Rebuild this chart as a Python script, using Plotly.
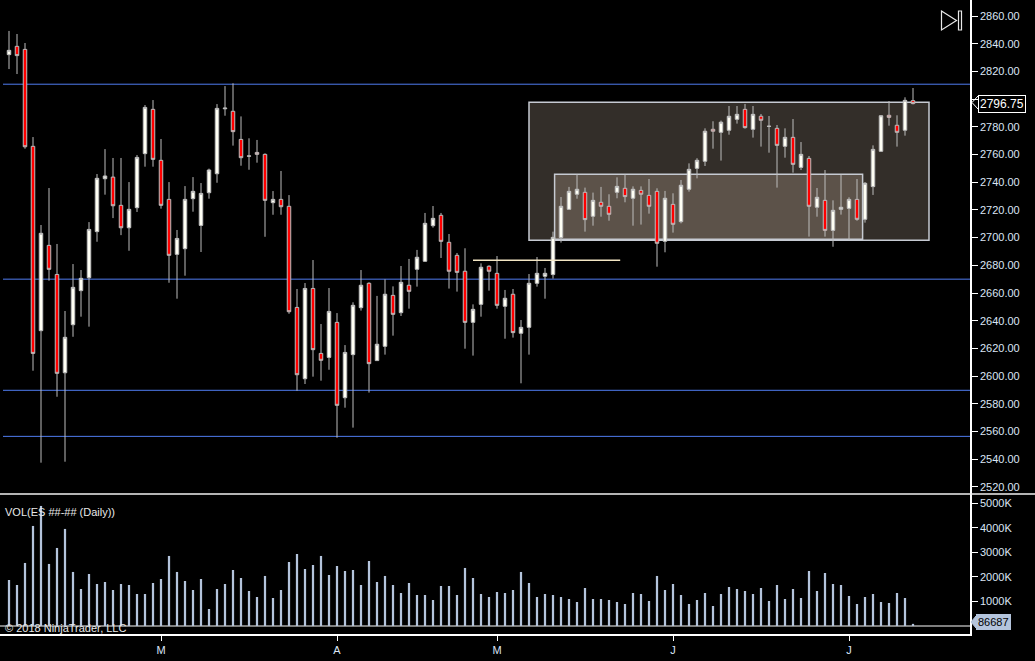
import plotly.graph_objects as go

# ---------------- data ----------------
bar_index = list(range(114))

opens = [2832.1, 2838.1, 2835.9, 2765.9, 2632.8, 2694.4, 2673.4, 2602.4, 2637.1, 2661.7,
         2671.0, 2704.3, 2742.5, 2743.7, 2723.3, 2707.1, 2721.6, 2760.6, 2792.6, 2755.8,
         2727.6, 2687.9, 2692.0, 2728.1, 2708.8, 2732.4, 2746.1, 2793.0, 2791.2, 2770.9,
         2759.0, 2761.5, 2760.1, 2725.2, 2727.6, 2722.6, 2649.6, 2598.1, 2663.3, 2616.4,
         2613.5, 2638.8, 2584.4, 2615.5, 2649.4, 2667.0, 2611.2, 2621.5, 2658.3, 2645.8,
         2665.6, 2677.1, 2682.9, 2708.6, 2716.1, 2696.6, 2687.2, 2675.7, 2638.8, 2651.8,
         2679.3, 2674.2, 2650.4, 2659.1, 2630.9, 2635.2, 2667.0, 2672.1, 2673.3, 2700.0,
         2720.4, 2731.3, 2732.7, 2715.4, 2725.5, 2722.6, 2732.7, 2735.6, 2728.4, 2734.1,
         2730.5, 2733.4, 2697.3, 2724.0, 2711.5, 2734.9, 2750.0, 2755.1, 2778.2, 2776.0,
         2777.5, 2785.4, 2792.6, 2778.2, 2787.6, 2780.3, 2778.9, 2765.9, 2772.4, 2750.7,
         2757.2, 2721.9, 2726.9, 2705.2, 2720.4, 2721.1, 2727.6, 2713.2, 2736.8, 2762.3,
         2788.3, 2781.1, 2777.5, 2798.9]
highs = [2849.2, 2847.0, 2840.5, 2772.6, 2709.1, 2735.8, 2695.4, 2647.0, 2680.9, 2676.6,
         2711.2, 2745.9, 2763.9, 2757.5, 2757.5, 2740.1, 2759.6, 2795.7, 2799.3, 2771.2,
         2740.1, 2705.5, 2737.2, 2743.7, 2739.4, 2749.8, 2796.4, 2809.4, 2811.4, 2787.5,
         2771.7, 2770.5, 2760.8, 2733.6, 2748.1, 2730.7, 2662.9, 2667.2, 2683.8, 2637.6,
         2663.6, 2645.5, 2622.4, 2653.3, 2676.6, 2667.7, 2657.9, 2669.9, 2664.8, 2679.5,
         2684.6, 2691.1, 2717.8, 2722.8, 2717.8, 2702.6, 2688.9, 2692.3, 2651.8, 2681.4,
         2680.0, 2686.7, 2662.2, 2662.9, 2640.5, 2673.7, 2686.0, 2678.1, 2704.3, 2729.3,
         2736.6, 2745.7, 2736.1, 2732.5, 2736.6, 2731.3, 2743.5, 2745.7, 2737.0, 2737.0,
         2742.3, 2735.6, 2733.7, 2732.0, 2741.6, 2753.6, 2757.3, 2778.9, 2784.0, 2784.5,
         2795.0, 2795.0, 2796.5, 2795.0, 2789.2, 2787.8, 2781.3, 2778.9, 2785.6, 2769.0,
         2758.9, 2735.8, 2748.8, 2726.9, 2745.4, 2729.1, 2742.3, 2740.1, 2766.6, 2788.3,
         2798.6, 2788.3, 2801.3, 2808.0]
lows = [2821.7, 2818.1, 2764.2, 2603.9, 2537.5, 2668.9, 2585.1, 2538.2, 2628.4, 2642.9,
        2635.7, 2697.0, 2731.0, 2714.1, 2701.8, 2690.5, 2718.5, 2751.2, 2751.2, 2720.9,
        2667.4, 2655.9, 2672.5, 2718.7, 2689.6, 2728.1, 2739.6, 2788.0, 2766.4, 2751.9,
        2749.0, 2754.1, 2700.6, 2716.5, 2716.5, 2645.0, 2589.4, 2594.3, 2599.6, 2596.7,
        2604.6, 2555.5, 2577.2, 2562.8, 2647.3, 2588.1, 2610.9, 2615.5, 2629.2, 2643.4,
        2648.7, 2664.6, 2682.5, 2707.2, 2685.3, 2663.2, 2661.0, 2619.8, 2614.8, 2642.9,
        2661.7, 2648.7, 2627.0, 2627.8, 2594.8, 2615.5, 2664.6, 2655.9, 2670.4, 2696.4,
        2720.0, 2728.1, 2704.3, 2708.6, 2715.1, 2712.2, 2728.4, 2725.5, 2708.6, 2709.4,
        2717.3, 2679.0, 2689.4, 2703.6, 2710.3, 2733.2, 2742.8, 2751.7, 2764.2, 2755.6,
        2774.3, 2782.3, 2778.7, 2772.2, 2765.7, 2761.3, 2736.1, 2757.7, 2746.9, 2748.8,
        2700.7, 2715.1, 2700.7, 2693.4, 2716.6, 2698.3, 2712.2, 2710.8, 2730.8, 2761.8,
        2780.8, 2765.7, 2773.6, 2796.2]
closes = [2835.2, 2831.4, 2765.6, 2616.4, 2703.1, 2677.1, 2602.0, 2628.0, 2664.1, 2670.6,
          2705.9, 2742.8, 2744.5, 2723.0, 2707.1, 2720.4, 2757.9, 2794.0, 2756.5, 2723.3,
          2687.2, 2699.4, 2727.6, 2733.4, 2731.9, 2748.8, 2793.3, 2793.5, 2776.5, 2757.7,
          2758.8, 2760.1, 2726.9, 2727.6, 2722.3, 2646.5, 2601.0, 2663.3, 2619.1, 2611.4,
          2646.7, 2578.9, 2617.1, 2651.1, 2665.6, 2609.0, 2623.0, 2659.1, 2644.6, 2667.7,
          2661.2, 2685.8, 2710.3, 2713.9, 2697.3, 2675.7, 2674.9, 2638.8, 2648.2, 2678.6,
          2675.7, 2651.1, 2656.2, 2631.4, 2635.2, 2667.0, 2674.2, 2674.2, 2700.2, 2722.6,
          2733.4, 2734.9, 2713.0, 2726.9, 2722.6, 2716.8, 2737.0, 2729.6, 2734.9, 2731.3,
          2722.6, 2695.9, 2728.4, 2709.6, 2737.8, 2749.3, 2755.8, 2776.8, 2776.8, 2783.3,
          2787.6, 2789.0, 2779.4, 2789.0, 2784.7, 2780.4, 2766.6, 2772.4, 2752.9, 2760.1,
          2722.6, 2729.1, 2705.2, 2719.7, 2721.9, 2727.6, 2713.2, 2739.2, 2763.7, 2788.0,
          2786.8, 2776.0, 2799.1, 2796.75]
volumes = [1875000, 1672000, 2569000, 4077000, 4892000, 2528000, 3180000, 3955000, 2202000, 1508000,
           2120000, 1712000, 1794000, 1468000, 1712000, 1672000, 1305000, 1305000, 1753000, 1916000,
           2854000, 2202000, 1835000, 1468000, 1916000, 693000, 1508000, 1712000, 2283000, 1957000,
           1427000, 1182000, 2039000, 1142000, 1468000, 2609000, 2935000, 2324000, 2487000, 2854000,
           2079000, 2446000, 2242000, 2283000, 1672000, 2650000, 1794000, 2039000, 1672000, 1345000,
           1753000, 1264000, 1264000, 1060000, 1631000, 1631000, 1264000, 2365000, 1957000, 1305000,
           1182000, 1386000, 1345000, 1468000, 2202000, 1753000, 1182000, 1305000, 1264000, 1182000,
           1101000, 978000, 1549000, 1101000, 1101000, 1060000, 978000, 897000, 1345000, 1305000,
           1019000, 2039000, 1468000, 1712000, 1264000, 897000, 1060000, 1345000, 815000, 1305000,
           1590000, 1508000, 1427000, 1305000, 1549000, 1019000, 1672000, 1101000, 1508000, 1142000,
           2242000, 1427000, 2161000, 1712000, 1672000, 1223000, 897000, 1182000, 1305000, 978000,
           938000, 1345000, 1142000, 86687]

month_ticks = [19, 41, 61, 83, 105]
month_labels = ["M", "A", "M", "J", "J"]

price_ticks = list(range(2520, 2861, 20))
vol_ticks = [1000000, 2000000, 3000000, 4000000, 5000000]
vol_tick_labels = ["1000K", "2000K", "3000K", "4000K", "5000K"]

support_levels = [2810.75, 2670.0, 2589.75, 2556.5]
big_zone = dict(x0=65.0, x1=115.0, low=2698.1, high=2797.7)
small_zone = dict(x0=68.2, x1=106.7, low=2698.8, high=2745.7)
ray_level = dict(x0=58.0, x1=76.4, price=2683.6)

last_price = closes[-1]
last_volume = volumes[-1]

# ---------------- geometry helpers ----------------
W, H = 1035, 661
M_R, M_B = 65, 27
PW, PH = W - M_R, H - M_B
SPLIT_PX = 494
split = 1 - SPLIT_PX / PH


def px(x):
    return x / PW


def py(y):
    return 1 - y / PH


TEXT = "#dbe5f5"
FONT = "Liberation Sans, Arial, sans-serif"

fig = go.Figure()

fig.add_trace(go.Candlestick(
    x=bar_index, open=opens, high=highs, low=lows, close=closes,
    increasing=dict(fillcolor="#fffff4", line=dict(color="#bdbdbd", width=1)),
    decreasing=dict(fillcolor="#ff0000", line=dict(color="#bdbdbd", width=1)),
    whiskerwidth=0, xaxis="x", yaxis="y", hoverinfo="skip", showlegend=False,
))

fig.add_trace(go.Bar(
    x=bar_index, y=volumes, width=0.28, marker=dict(color="#b4c4dc", line=dict(width=0)),
    xaxis="x2", yaxis="y2", hoverinfo="skip", showlegend=False,
))

shapes = []
# zones
shapes.append(dict(type="rect", xref="x", yref="y", x0=big_zone["x0"], x1=big_zone["x1"],
                   y0=big_zone["low"], y1=big_zone["high"], fillcolor="#332e29",
                   line=dict(color="#c6cad2", width=1.5), layer="below"))
shapes.append(dict(type="rect", xref="x", yref="y", x0=small_zone["x0"], x1=small_zone["x1"],
                   y0=small_zone["low"], y1=small_zone["high"], fillcolor="#5c5249",
                   line=dict(color="#c6cad2", width=1.5), layer="below"))
# horizontal levels
for lvl in support_levels:
    shapes.append(dict(type="line", xref="paper", yref="y", x0=px(3), x1=1, y0=lvl, y1=lvl,
                       line=dict(color="#4f7cf0", width=1), layer="below"))
shapes.append(dict(type="line", xref="x", yref="y", x0=ray_level["x0"], x1=ray_level["x1"],
                   y0=ray_level["price"], y1=ray_level["price"],
                   line=dict(color="#f3e6c4", width=1.5)))
# panel separator (full width) & volume baseline
shapes.append(dict(type="line", xref="paper", yref="paper", x0=0, x1=W / PW, y0=split, y1=split,
                   line=dict(color="#f0f0f0", width=1.5)))
shapes.append(dict(type="line", xref="paper", yref="y2", x0=0, x1=1, y0=0, y1=0,
                   line=dict(color="#a8a8a8", width=1.5), layer="below"))
# last-price pointers
shapes.append(dict(type="path", xref="paper", yref="paper",
                   path=f"M {px(978)} {py(96)} L {px(972)} {py(102.5)} L {px(978)} {py(109)}",
                   line=dict(color="#ffffff", width=1)))
shapes.append(dict(type="path", xref="paper", yref="paper",
                   path=f"M {px(976)} {py(616)} L {px(971)} {py(622)} L {px(976)} {py(628)} Z",
                   fillcolor="#b4c4dc", line=dict(color="#b4c4dc", width=1)))
# top-right icon
shapes.append(dict(type="path", xref="paper", yref="paper",
                   path=f"M {px(941.5)} {py(11)} L {px(956.5)} {py(20.5)} L {px(941.5)} {py(30)} Z",
                   line=dict(color="#e8e8e8", width=1.2)))
shapes.append(dict(type="rect", xref="paper", yref="paper", x0=px(958.5), x1=px(961.5),
                   y0=py(30), y1=py(11), line=dict(color="#e8e8e8", width=1.2)))

annotations = [
    dict(text="VOL(ES ##-## (Daily))", xref="paper", yref="paper", x=px(3), y=py(512),
         xanchor="left", yanchor="middle", showarrow=False, font=dict(color="#e8e8e8", size=11, family=FONT)),
    dict(text="© 2018 NinjaTrader, LLC", xref="paper", yref="paper", x=px(3), y=py(628),
         xanchor="left", yanchor="middle", showarrow=False, font=dict(color="#e8e8e8", size=11, family=FONT)),
    dict(text=f"{last_price:.2f}", xref="paper", yref="y", x=px(978), y=last_price,
         xanchor="left", yanchor="middle", showarrow=False, bgcolor="#000000", bordercolor="#ffffff",
         borderwidth=1, borderpad=1, font=dict(color="#ffffff", size=12, family=FONT)),
    dict(text=f"{last_volume}", xref="paper", yref="paper", x=px(976), y=py(622),
         xanchor="left", yanchor="middle", showarrow=False, bgcolor="#b4c4dc", bordercolor="#b4c4dc",
         borderwidth=1, borderpad=1, font=dict(color="#000000", size=11, family=FONT)),
]

xr = [(0 - 9) / 8, (PW - 9) / 8]

# the last-price box covers the 2800 label, as in the reference
price_tick_text = ["" if abs(v - last_price) < 8 else f"{v:.2f}" for v in price_ticks]

fig.update_layout(
    width=W, height=H,
    margin=dict(l=0, r=M_R, t=0, b=M_B),
    paper_bgcolor="#000000", plot_bgcolor="#000000",
    font=dict(family=FONT, size=11, color=TEXT),
    boxgap=0.38,
    showlegend=False,
    xaxis=dict(domain=[0, 1], anchor="y", range=xr, showticklabels=False, showgrid=False,
               zeroline=False, rangeslider=dict(visible=False), matches="x2", ticks=""),
    xaxis2=dict(domain=[0, 1], anchor="y2", range=xr, showgrid=False, zeroline=False,
                tickmode="array", tickvals=month_ticks, ticktext=month_labels,
                ticks="outside", ticklen=5, tickcolor="#ffffff", showline=True,
                linecolor="#ffffff", linewidth=1.5, tickfont=dict(color=TEXT, size=11)),
    yaxis=dict(domain=[split, 1], anchor="x", side="right",
               range=[2860 - (SPLIT_PX - 16) * 0.722, 2860 + 16 * 0.722],
               tickmode="array", tickvals=price_ticks, ticktext=price_tick_text,
               ticks="outside", ticklen=6, tickcolor="#ffffff", showline=True,
               linecolor="#ffffff", linewidth=1.5, showgrid=False, zeroline=False),
    yaxis2=dict(domain=[0, split], anchor="x2", side="right",
                range=[-8 / 24.54 * 1e6, (626 - SPLIT_PX) / 24.54 * 1e6],
                tickmode="array", tickvals=vol_ticks, ticktext=vol_tick_labels,
                ticks="outside", ticklen=6, tickcolor="#ffffff", showline=True,
                linecolor="#ffffff", linewidth=1.5, showgrid=False, zeroline=False),
    shapes=shapes,
    annotations=annotations,
)

fig.write_html(
    "out.html",
    config={"displayModeBar": False},
    post_script="document.body.style.margin='0';document.body.style.background='#000';",
)
